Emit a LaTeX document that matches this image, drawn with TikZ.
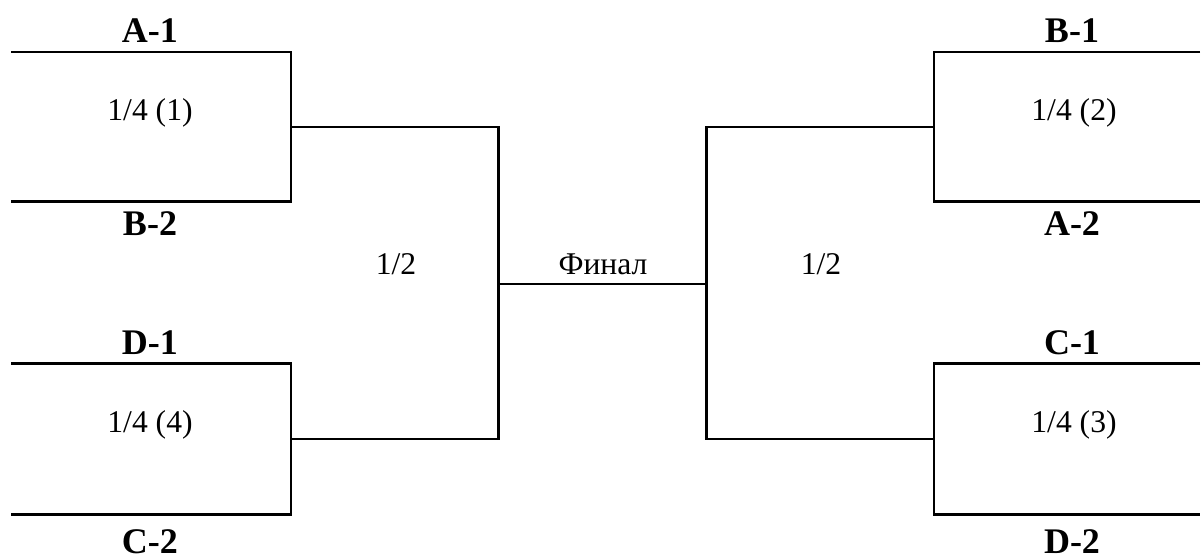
\documentclass[tikz,border=0pt]{standalone}
\usepackage{fontspec}
\setmainfont{Liberation Serif}
\usepackage{tikz}
\usetikzlibrary{positioning}
\tikzset{
  bracketline/.style={line width=1.5pt},
  teamlabel/.style={font=\fontsize{20.5}{24}\selectfont\bfseries,anchor=base,inner sep=0pt},
  roundlabel/.style={font=\fontsize{18}{21}\selectfont,anchor=base,inner sep=0pt}
}

\begin{document}
\begin{tikzpicture}[x=0.02cm,y=-0.02cm]
    \useasboundingbox (0,0) rectangle (1201,560);
    % quarter-final brackets
    \foreach \q/\xo/\xi/\yt/\yb in {q1/11/291/52/201.7,q4/11/291/363.7/514.3,q2/1200/934/52/201.7,q3/1200/934/363.7/514.3} {
      \coordinate (\q-top) at (\xo,\yt);
      \coordinate (\q-bot) at (\xo,\yb);
      \coordinate (\q-out) at (\xi,{(\yt+\yb)/2});
      \draw[bracketline] (\q-top) -| (\q-out) |- (\q-bot);
    }
    % semi-finals and final
    \coordinate (semiL) at (498.7,284);
    \coordinate (semiR) at (706.7,284);
    \draw[bracketline] (q1-out) -| (semiL) |- (q4-out);
    \draw[bracketline] (q2-out) -| (semiR) |- (q3-out);
    \draw[bracketline] (semiL) -- (semiR);
    % team labels
    \foreach \n/\x/\y/\t in {A1/150/43/A-1,B2/150/235.5/B-2,D1/150/355/D-1,C2/150/554/C-2,B1/1072/43/B-1,A2/1072/236/A-2,C1/1072/355/C-1,D2/1072/554/D-2} {
      \node[teamlabel] (\n) at (\x,\y) {\t};
    }
    % round labels
    \node[roundlabel] (r1) at (150,121) {1/4 (1)};
    \node[roundlabel] (r4) at (150,433) {1/4 (4)};
    \node[roundlabel] (r2) at (1074,121) {1/4 (2)};
    \node[roundlabel] (r3) at (1074,433) {1/4 (3)};
    \node[roundlabel] (halfL) at (396,275) {1/2};
    \node[roundlabel] (halfR) at (821,275) {1/2};
    \node[roundlabel] (final) at (603,275) {Финал};
  \end{tikzpicture}
\end{document}
